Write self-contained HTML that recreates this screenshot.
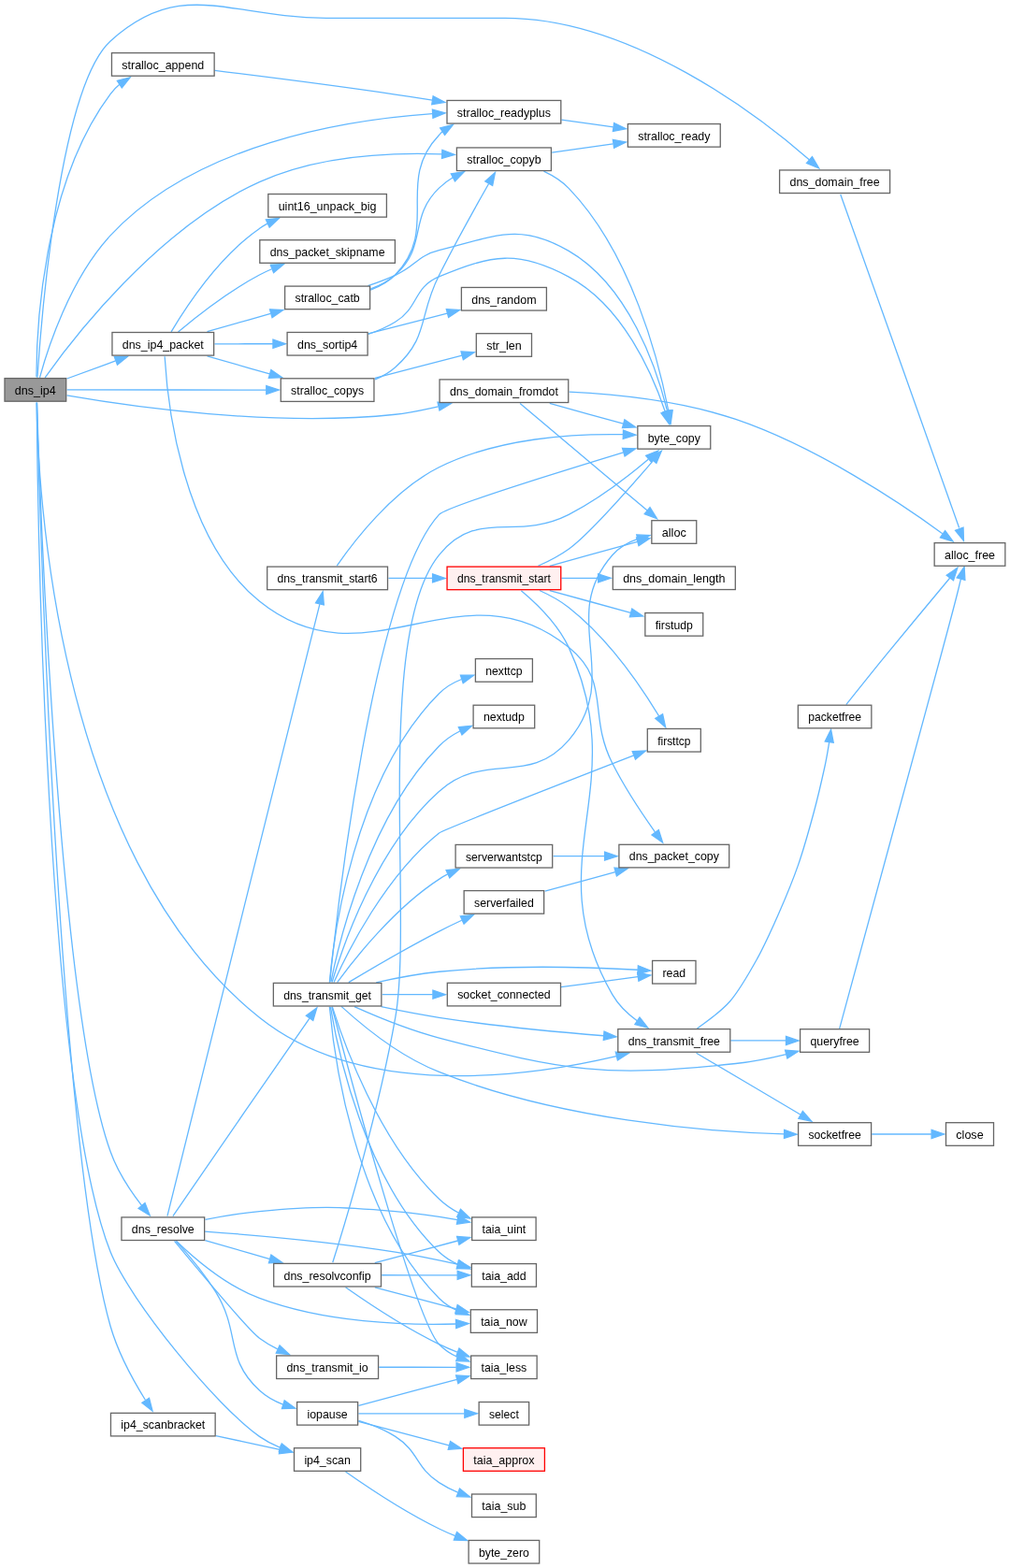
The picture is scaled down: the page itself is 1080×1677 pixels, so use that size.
<!DOCTYPE html>
<html><head><meta charset="utf-8"><title>dns_ip4</title>
<style>
html,body{margin:0;padding:0;background:#fff}
svg{display:block}
text{font-family:"Liberation Sans",sans-serif;font-size:12.4px;fill:#000;text-anchor:middle}
.e{fill:none;stroke:#63b8ff;stroke-width:1.3}
.a{fill:#63b8ff;stroke:#63b8ff;stroke-width:1.3}
.n{fill:#fff;stroke:#666;stroke-width:1.3}
.r{fill:#999;stroke:#666;stroke-width:1.3}
.t{fill:#fff0f0;stroke:#f00;stroke-width:1.3}
</style></head>
<body>
<div style="will-change:transform;width:1080px;height:1677px;overflow:hidden">
<svg width="1080" height="1677" viewBox="0 0 1080 1677">
<rect width="1080" height="1677" fill="#fff"/>
<g>
<path class="e" d="M39.96,403.72C43.93,343.92 63.45,93.88 118.04,44 194.57,-25.21 245.58,19.31 348.8,19.31 348.8,19.31 348.8,19.31 540.19,19.32 675.25,19.33 811.04,123.54 865.54,170.98"/><polygon class="a" points="868.46,167.61 875.7,179.87 862.5,174.49"/>
<path class="e" d="M71.49,422.94C137.52,434.44 292.87,457.13 422.77,443.27 439.88,441.45 451.64,438.45 468.51,434.78"/><polygon class="a" points="467.99,430.17 482.16,431.68 469.97,439.07"/>
<path class="e" d="M71.54,405.01C87.61,399.12 105.83,392.44 123.6,385.92"/><polygon class="a" points="122.34,381.54 136.57,381.16 125.47,390.09"/>
<path class="e" d="M48.15,403.85C76.41,364.16 167.99,243.88 277.44,194.64 340.05,166.45 417.84,162.92 472.37,164.87"/><polygon class="a" points="472.87,160.38 486.17,165.5 472.49,169.47"/>
<path class="e" d="M42.48,403.8C50.71,373.72 74.53,298.96 118.04,251.91 208.73,154.2 368.29,128.25 462.29,121.7"/><polygon class="a" points="462.39,117.13 476.14,120.83 462.95,126.22"/>
<path class="e" d="M71.65,416.92C122.29,416.95 219.5,417.02 284.47,417.06"/><polygon class="a" points="284.78,412.52 298.28,417.07 284.78,421.62"/>
<path class="e" d="M39.54,430.73C42.47,525.96 61.84,1074.82 118.04,1231.56 125.76,1253.38 139.36,1273.71 151.58,1289.32"/><polygon class="a" points="155.05,1286.69 160.25,1299.96 148.08,1292.54"/>
<path class="e" d="M39.18,430.55C40.17,510.4 56.1,912.21 277.44,1088.17 388.34,1177.03 566.71,1151.35 659.02,1129.62"/><polygon class="a" points="658.29,1125.08 672.48,1126.35 660.41,1133.93"/>
<path class="e" d="M39.23,430.56C40.1,532.41 48.24,1161.75 118.04,1338.85 139.07,1391.27 231.28,1503.96 277.44,1536.36 284.49,1541.3 291.1,1544.78 299.29,1548.04"/><polygon class="a" points="301.3,1543.92 312.51,1552.7 298.28,1552.51"/>
<path class="e" d="M39.48,430.93C42.18,538.39 61.63,1219.74 118.04,1418.23 126.45,1447.38 142.53,1476.54 155.4,1497.22"/><polygon class="a" points="159.52,1495.33 163.03,1509.14 151.88,1500.27"/>
<path class="e" d="M38.94,403.37C38.92,356.74 44.61,198.67 118.04,100.6 121.17,96.41 123.66,93.57 127.84,90.28"/><polygon class="a" points="125.34,86.33 139.12,82.74 130.33,93.94"/>
<path class="e" d="M898.78,208.01C919.28,265.39 998.04,486.07 1025.63,564.57"/><polygon class="a" points="1030.03,564.06 1030.47,578.3 1021.5,567.22"/>
<path class="e" d="M608.63,419.15C658.94,421.59 728.42,428.73 786.68,448.47 872.07,477.42 962.92,537.81 1007.76,570.65"/><polygon class="a" points="1010.64,567.54 1019.07,579.03 1005.41,574.99"/>
<path class="e" d="M556.11,431.61C587,457.65 654.13,514.1 691.91,545.84"/><polygon class="a" points="694.99,542.66 702.52,554.75 689.2,549.69"/>
<path class="e" d="M587.77,431.37C612.51,438.23 641.24,446.18 666.51,453.19"/><polygon class="a" points="667.89,448.88 679.71,456.84 665.49,457.65"/>
<path class="e" d="M176.13,381.2C178.67,426.19 193.36,575 277.44,643.11 393.08,736.55 492.55,599 608.16,692.32 653.68,729.06 628.19,763.72 654.77,816.3 668.33,843.09 686.48,870.26 700.42,889.82"/><polygon class="a" points="704.34,887.58 708.64,901.16 697,892.95"/>
<path class="e" d="M190.53,354.9C209.59,338.98 244.11,311.68 277.44,294.04 282.09,291.59 285.53,289.86 290.54,287.74"/><polygon class="a" points="289.29,283.25 303.52,282.6 292.59,291.74"/>
<path class="e" d="M229.45,367.78C249.82,367.78 271.42,367.77 291.91,367.77"/><polygon class="a" points="291.93,363.21 305.43,367.76 291.93,372.31"/>
<path class="e" d="M221.56,354.69C242.84,348.62 266.81,341.78 289.39,335.35"/><polygon class="a" points="288.54,330.85 302.76,331.53 291.02,339.6"/>
<path class="e" d="M221.56,380.88C242.51,386.85 266.01,393.53 288.32,399.89"/><polygon class="a" points="289.83,395.59 301.57,403.66 287.33,404.34"/>
<path class="e" d="M183.07,354.81C197.89,330.15 233.42,275.16 277.44,244.47 280.57,242.3 282.47,240.97 285.92,239.13"/><polygon class="a" points="284.32,234.85 298.48,233.3 288.14,243.1"/>
<path class="e" d="M393.71,357.5C403.68,354.12 413.95,349.79 422.77,344.32 448.13,328.69 441.75,307.42 469.48,295.95 526.17,272.19 554.09,267.06 608.16,296.11 665.79,326.61 697.65,399.74 711.26,440.2"/><polygon class="a" points="715.62,439.02 715.45,453.26 706.96,441.83"/>
<path class="e" d="M393.65,356.86C419.12,350.29 450.38,342.25 478.23,335.06"/><polygon class="a" points="477.31,330.69 491.53,331.64 479.64,339.49"/>
<path class="e" d="M393.45,305.69C403.22,302.34 413.47,298.49 422.77,294.32 444.6,284.59 446.28,273.5 469.48,267.73 529.05,252.71 555.07,237.57 608.16,268.4 672.65,305.63 702.18,393.83 713.46,439.44"/><polygon class="a" points="717.94,438.71 716.6,452.9 709.07,440.8"/>
<path class="e" d="M396.49,308.87C405.91,305.33 415.25,300.49 422.77,293.89 457.37,263.54 436.36,232.98 469.48,201.15 474.28,196.54 478.47,193.26 484.36,189.81"/><polygon class="a" points="482.28,185.8 496.36,183.61 486.49,193.87"/>
<path class="e" d="M396.22,310.14C405.97,306.53 415.54,301.32 422.77,293.82 470.85,244.14 421.74,194.64 469.48,144.47 471.04,142.83 471.37,142.16 473.13,140.72"/><polygon class="a" points="470.67,136.81 484.48,133.3 475.61,144.46"/>
<path class="e" d="M581.44,183.2C591.11,187.74 600.76,193.7 608.16,201.39 675.64,271.41 704.59,386.67 714.72,439.24"/><polygon class="a" points="719.21,438.84 717.18,452.95 710.25,440.49"/>
<path class="e" d="M590.14,163.18C610.91,160.24 633.65,157.01 655.57,153.9"/><polygon class="a" points="655.36,149.28 669.36,151.95 656.59,158.3"/>
<path class="e" d="M600.4,128.18C618.74,130.74 637.34,133.35 655.8,135.94"/><polygon class="a" points="656.63,131.5 669.39,137.84 655.4,140.51"/>
<path class="e" d="M401.07,405.94C408.93,402.61 416.51,398.29 422.77,392.72 458.89,360.59 447.35,337.72 469.48,294.48 487.24,259.43 508.47,221.32 522.58,196.46"/><polygon class="a" points="518.76,193.9 529.43,184.45 526.65,198.43"/>
<path class="e" d="M400.81,404.34C430.38,396.7 466.02,387.49 494.16,380.23"/><polygon class="a" points="493.04,375.89 507.27,376.84 495.38,384.69"/>
<path class="e" d="M219.31,1326.69C240.78,1332.83 265.44,1339.88 288.62,1346.5"/><polygon class="a" points="289.88,1342.15 301.62,1350.22 287.4,1350.9"/>
<path class="e" d="M219.09,1317.08C268.61,1320.71 351.83,1327.86 422.77,1339.07 445.24,1342.61 468.37,1347.43 489.08,1352.13"/><polygon class="a" points="490.41,1347.79 502.55,1355.25 488.37,1356.66"/>
<path class="e" d="M188.68,1327.45C206.83,1344.89 241.47,1374.84 277.44,1388.42 347.52,1414.88 433.83,1417.5 487.42,1416"/><polygon class="a" points="487.45,1411.45 501.1,1415.51 487.77,1420.53"/>
<path class="e" d="M219.49,1304.37C237.37,1300.84 258.31,1297.3 277.44,1295.56 341.77,1289.71 358.38,1290.36 422.77,1295.56 445.21,1297.37 468.33,1300.85 489.05,1304.54"/><polygon class="a" points="490.03,1300.15 502.52,1307.02 488.43,1309.11"/>
<path class="e" d="M184.91,1300.59C212.76,1259.93 294.74,1141 330.81,1089.29"/><polygon class="a" points="327.32,1086.34 338.82,1077.91 334.77,1091.57"/>
<path class="e" d="M186.53,1327.46C210.54,1356.47 266.6,1423.23 277.44,1431.17 283.8,1435.82 289.51,1439.29 296.78,1442.92"/><polygon class="a" points="299.09,1438.96 309.45,1448.75 295.28,1447.23"/>
<path class="e" d="M178.91,1300.68C199.81,1215.2 313.27,760.32 341.89,646.06"/><polygon class="a" points="337.5,644.81 345.2,632.82 346.33,647.02"/>
<path class="e" d="M188.14,1327.42C200.14,1340.54 218.2,1361.6 230.74,1381.95 257.53,1425.43 239.79,1452.38 277.44,1487.04 284.97,1493.97 292.99,1498.49 302.63,1502.1"/><polygon class="a" points="304.18,1497.84 315.68,1506.24 301.44,1506.52"/>
<path class="e" d="M355.74,1350.26C368.31,1310.8 404.87,1189.98 422.77,1088.23 442.02,979.76 400.01,679.11 469.48,593.63 510.24,542.86 550.49,579.59 608.16,550.34 640.14,533.99 671.61,509.54 693.23,491.22"/><polygon class="a" points="690.57,487.27 703.84,482.06 696.44,494.23"/>
<path class="e" d="M408.27,1363.76C434.63,1363.79 463.96,1363.82 488.98,1363.85"/><polygon class="a" points="489.19,1359.31 502.69,1363.86 489.19,1368.41"/>
<path class="e" d="M369.51,1376.75C392.1,1392.62 432.29,1419.53 469.48,1437.64 476.12,1440.87 481.8,1443.36 488.92,1446.15"/><polygon class="a" points="490.95,1442.05 502.03,1451.01 487.78,1450.58"/>
<path class="e" d="M400.81,1376.79C428.22,1384.06 460.61,1392.64 487.82,1399.86"/><polygon class="a" points="489.18,1395.52 501.08,1403.37 486.85,1404.32"/>
<path class="e" d="M400.81,1350.57C428.77,1343.13 461.99,1334.3 489.47,1327"/><polygon class="a" points="488.59,1322.5 502.8,1323.46 490.92,1331.31"/>
<path class="e" d="M355.08,1050.46C366.13,1013.11 402.33,906.1 469.48,846.43 519.19,802.27 564.82,841.97 608.16,791.55 667.07,722.88 595.5,661.6 654.77,593.7 662.22,585.19 671.36,580.03 681.91,576.37"/><polygon class="a" points="680.74,571.95 694.96,572.64 683.22,580.71"/>
<path class="e" d="M352.71,1050.4C360.1,977.6 398.88,627.75 469.48,550.38 476.42,542.64 595.5,505.51 666.59,483.83"/><polygon class="a" points="665.49,479.3 679.73,479.84 668.08,488.03"/>
<path class="e" d="M353.42,1077.12C360.68,1120.8 389.35,1262.36 469.48,1339.07 475.68,1344.92 481.85,1348.87 489.79,1352.32"/><polygon class="a" points="491.65,1348.18 502.78,1357.07 488.53,1356.73"/>
<path class="e" d="M354.9,1077.02C371.58,1140.41 443.12,1410.35 469.48,1437.69 475.32,1443.74 481.26,1447.76 489.06,1451.22"/><polygon class="a" points="490.83,1447 501.94,1455.93 487.69,1455.54"/>
<path class="e" d="M352.37,1076.76C356.64,1124.86 377.8,1296.59 469.48,1388.43 475.19,1394.11 480.82,1397.92 488.28,1401.29"/><polygon class="a" points="490.42,1397.22 501.45,1406.25 487.21,1405.74"/>
<path class="e" d="M355.28,1076.67C366.81,1113.21 404.21,1219.98 469.48,1282.25 476.01,1288.48 482.47,1292.99 490.55,1297.24"/><polygon class="a" points="492.48,1293.26 502.85,1303.03 488.68,1301.53"/>
<path class="e" d="M407.64,1076.71C427.14,1080.88 449.2,1085.22 469.48,1088.31 529.14,1097.43 595.62,1103.75 645.66,1107.75"/><polygon class="a" points="646.02,1103.2 659.11,1108.79 645.3,1112.28"/>
<path class="e" d="M378.93,1076.66C402.48,1087.22 437.53,1101.69 469.48,1110.06 606.33,1145.83 646.28,1152.74 786.68,1137.5 804.99,1135.49 823.21,1131.78 840.57,1127.51"/><polygon class="a" points="839.6,1123.15 853.8,1124.2 841.87,1131.97"/>
<path class="e" d="M364.98,1076.39C385.68,1095.25 427.22,1129.92 469.48,1146.36 595.92,1197.25 756.83,1210.7 838.26,1212.85"/><polygon class="a" points="838.63,1208.34 852.05,1213.13 838.47,1217.44"/>
<path class="e" d="M357.08,1050.48C371.37,1018.61 411.85,936.97 469.48,890.93 473.83,887.44 608.25,834.98 677.8,807.93"/><polygon class="a" points="676.2,803.64 690.44,803.03 679.47,812.13"/>
<path class="e" d="M352.37,1050.63C356.64,1002.58 377.8,833.68 469.48,741.8 476.52,734.72 484.2,730.13 493.55,726.49"/><polygon class="a" points="492.42,722.04 506.66,722.21 495.21,730.69"/>
<path class="e" d="M353.89,1050.24C362.39,1007.73 394.04,874.72 469.48,797.97 476.28,791.05 483.39,786.15 492.16,781.75"/><polygon class="a" points="490.33,777.53 504.53,776.25 494,785.85"/>
<path class="e" d="M402.19,1050.81C422.91,1046.16 447.19,1041.51 469.48,1039.26 545.44,1031.54 633.26,1034.55 681.92,1037.26"/><polygon class="a" points="682.37,1032.76 695.58,1038.07 681.85,1041.85"/>
<path class="e" d="M372.83,1050.67C396.26,1036.59 435.03,1013.82 469.48,996.11 477.72,991.87 485.19,988.24 493.78,984.25"/><polygon class="a" points="492.3,979.91 506.47,978.45 496.08,988.19"/>
<path class="e" d="M360.62,1050.65C378.78,1025.81 421.55,971.51 469.48,940.34 472.85,938.15 474.98,936.78 478.69,934.92"/><polygon class="a" points="477.05,930.68 491.22,929.26 480.8,938.97"/>
<path class="e" d="M408.79,1063.67C426.32,1063.66 444.26,1063.65 462.71,1063.64"/><polygon class="a" points="462.91,1059.08 476.41,1063.63 462.91,1068.18"/>
<path class="e" d="M745,1100.5C750.92,1095.58 769.7,1083.57 780.5,1071 791.3,1058.43 801.1,1040.75 809.8,1025.1 818.5,1009.45 825.4,993.8 832.7,977.1 840,960.4 847.33,943 853.6,924.9 859.87,906.8 865.6,885.9 870.3,868.5 875,851.1 879.06,832.99 881.8,820.5 884.54,808.01 885.9,798.06 886.71,793.58"/><polygon class="a" points="891.22,794.2 888.57,780.2 882.21,792.95"/>
<path class="e" d="M781.28,1112.94C801.07,1112.95 821.3,1112.96 840.26,1112.97"/><polygon class="a" points="840.49,1108.43 853.99,1112.98 840.49,1117.53"/>
<path class="e" d="M744.57,1126.19C773.39,1143.25 822.28,1172.18 855.82,1192.03"/><polygon class="a" points="858.4,1188.39 867.79,1199.11 853.84,1196.27"/>
<path class="e" d="M904.8,753.6C912,744.63 929.49,722.39 948,699.8 966.51,677.21 1004.54,631.66 1015.84,618.03"/><polygon class="a" points="1019.49,620.75 1023.9,607.2 1012.19,615.32"/>
<path class="e" d="M897.6,1100.3C915.73,1033.58 984.75,780.2 1006.4,700 1028.05,619.8 1023.99,632.6 1027.51,619.12"/><polygon class="a" points="1031.89,620.34 1031.13,606.12 1023.12,617.9"/>
<path class="e" d="M932.27,1213C952.54,1213 975.71,1213 995.94,1213"/><polygon class="a" points="996.11,1208.45 1009.61,1213 996.11,1217.55"/>
<path class="e" d="M582.69,953.21C605.61,946.92 632.76,939.45 657.93,932.53"/><polygon class="a" points="656.98,928.06 671.2,928.88 659.4,936.84"/>
<path class="e" d="M591.58,915.71C609.07,915.69 627.34,915.68 646.13,915.66"/><polygon class="a" points="646.57,911.1 660.07,915.65 646.57,920.2"/>
<path class="e" d="M599.9,1055.67C627.66,1051.97 658.17,1047.92 682.12,1044.73"/><polygon class="a" points="681.69,1040.25 695.68,1042.92 682.93,1049.27"/>
<path class="e" d="M405.26,1462.26C431.84,1462.27 462.05,1462.28 487.82,1462.29"/><polygon class="a" points="488.07,1457.74 501.57,1462.29 488.07,1466.84"/>
<path class="e" d="M360.23,605.05C377.73,579.88 419.42,524.71 469.48,499.79 532.93,468.21 613.84,463.65 666.37,464.68"/><polygon class="a" points="666.49,460.14 679.86,465.07 666.23,469.24"/>
<path class="e" d="M415.47,618.4C431.1,618.4 446.33,618.4 462.34,618.4"/><polygon class="a" points="462.57,613.85 476.07,618.4 462.57,622.95"/>
<path class="e" d="M587.77,605.3C617.73,597.04 654.25,586.97 681.75,579.39"/><polygon class="a" points="680.58,574.99 694.8,575.8 682.99,583.76"/>
<path class="e" d="M575.46,605.26C586.43,600.39 598.22,594.3 608.16,587.2 628.17,572.91 672,523.37 698.25,492.82"/><polygon class="a" points="695,489.35 707.35,482.21 701.84,495.35"/>
<path class="e" d="M557.35,631.66C573.39,645.11 596.56,667.47 608.16,692.36 677.82,843.48 572.17,920.08 654.77,1063.65 661.43,1075.18 670.62,1084.03 681.26,1091.7"/><polygon class="a" points="683.9,1088 692.67,1099.22 678.89,1095.59"/>
<path class="e" d="M576.94,631.51C587.61,636.3 598.88,642.37 608.16,649.71 650.66,683.19 685.79,734.76 704.6,765.82"/><polygon class="a" points="708.6,763.78 711.63,777.69 700.79,768.45"/>
<path class="e" d="M600.4,618.35C613.51,618.34 625.96,618.33 639.66,618.32"/><polygon class="a" points="639.63,613.75 653.13,618.3 639.63,622.85"/>
<path class="e" d="M587.77,631.52C615.12,639.06 647.66,648.04 674.31,655.39"/><polygon class="a" points="675.77,651.09 687.59,659.05 673.37,659.87"/>
<path class="e" d="M383.41,1503.29C412.79,1495.48 455.14,1484.22 488.59,1475.33"/><polygon class="a" points="487.58,1470.88 501.79,1471.82 489.91,1479.68"/>
<path class="e" d="M383.41,1511.8C415.21,1511.8 462.44,1511.8 496.61,1511.8"/><polygon class="a" points="496.82,1507.25 510.32,1511.8 496.82,1516.35"/>
<path class="e" d="M383.41,1520.28C410.37,1527.39 448.01,1537.34 480.14,1545.82"/><polygon class="a" points="481.56,1541.48 493.46,1549.34 479.23,1550.28"/>
<path class="e" d="M383.45,1519.31C396.31,1523.19 410.87,1528.77 422.77,1536.41 448.13,1552.72 444.23,1569.11 469.48,1585.65 476.08,1589.97 482.05,1593.11 489.55,1596.21"/><polygon class="a" points="491.49,1592.07 502.54,1601.06 488.3,1600.59"/>
<path class="e" d="M369.51,1574.05C392.1,1589.92 432.29,1616.86 469.48,1635.03 475.47,1637.95 480.41,1640.16 486.85,1642.72"/><polygon class="a" points="488.54,1638.52 499.57,1647.55 485.33,1647.03"/>
<path class="e" d="M230.88,1535.54C253.34,1540.39 277.49,1545.6 299.17,1550.28"/><polygon class="a" points="300.33,1545.86 312.55,1553.17 298.4,1554.76"/>
<path class="e" d="M229.66,75.43C279.78,81.59 356.39,91.32 422.77,101.04 436.09,102.99 448.69,104.95 462.37,107.14"/><polygon class="a" points="463.15,102.72 475.78,109.31 461.74,111.71"/>
</g>
<g>
<rect class="r" x="5" y="404.6" width="65.7" height="24.6"/><text x="37.85" y="421.7" textLength="43.96" lengthAdjust="spacingAndGlyphs">dns_ip4</text>
<rect class="n" x="119.45" y="56.6" width="109.7" height="24.6"/><text x="174.3" y="73.7" textLength="87.96" lengthAdjust="spacingAndGlyphs">stralloc_append</text>
<rect class="n" x="119.95" y="355.5" width="108.7" height="24.6"/><text x="174.3" y="372.6" textLength="86.96" lengthAdjust="spacingAndGlyphs">dns_ip4_packet</text>
<rect class="n" x="129.95" y="1301.9" width="88.7" height="24.6"/><text x="174.3" y="1319" textLength="66.96" lengthAdjust="spacingAndGlyphs">dns_resolve</text>
<rect class="n" x="118.45" y="1511.3" width="111.7" height="24.6"/><text x="174.3" y="1528.4" textLength="89.96" lengthAdjust="spacingAndGlyphs">ip4_scanbracket</text>
<rect class="n" x="286.8" y="207.55" width="126.6" height="24.6"/><text x="350.1" y="224.65" textLength="104.86" lengthAdjust="spacingAndGlyphs">uint16_unpack_big</text>
<rect class="n" x="277.8" y="256.7" width="144.6" height="24.6"/><text x="350.1" y="273.8" textLength="122.86" lengthAdjust="spacingAndGlyphs">dns_packet_skipname</text>
<rect class="n" x="304.6" y="306.1" width="91" height="24.6"/><text x="350.1" y="323.2" textLength="69.26" lengthAdjust="spacingAndGlyphs">stralloc_catb</text>
<rect class="n" x="307.1" y="355.45" width="86" height="24.6"/><text x="350.1" y="372.55" textLength="64.26" lengthAdjust="spacingAndGlyphs">dns_sortip4</text>
<rect class="n" x="300.25" y="404.8" width="99.7" height="24.6"/><text x="350.1" y="421.9" textLength="77.96" lengthAdjust="spacingAndGlyphs">stralloc_copys</text>
<rect class="n" x="285.7" y="606.1" width="128.8" height="24.6"/><text x="350.1" y="623.2" textLength="107.06" lengthAdjust="spacingAndGlyphs">dns_transmit_start6</text>
<rect class="n" x="292.35" y="1051.4" width="115.5" height="24.6"/><text x="350.1" y="1068.5" textLength="93.76" lengthAdjust="spacingAndGlyphs">dns_transmit_get</text>
<rect class="n" x="292.7" y="1351.4" width="114.8" height="24.6"/><text x="350.1" y="1368.5" textLength="93.06" lengthAdjust="spacingAndGlyphs">dns_resolvconfip</text>
<rect class="n" x="295.64" y="1449.95" width="108.92" height="24.6"/><text x="350.1" y="1467.05" textLength="87.18" lengthAdjust="spacingAndGlyphs">dns_transmit_io</text>
<rect class="n" x="317.6" y="1499.5" width="65" height="24.6"/><text x="350.1" y="1516.6" textLength="43.26" lengthAdjust="spacingAndGlyphs">iopause</text>
<rect class="n" x="314.51" y="1548.7" width="71.18" height="24.6"/><text x="350.1" y="1565.8" textLength="49.44" lengthAdjust="spacingAndGlyphs">ip4_scan</text>
<rect class="n" x="478" y="107.45" width="121.8" height="24.6"/><text x="538.9" y="124.55" textLength="100.06" lengthAdjust="spacingAndGlyphs">stralloc_readyplus</text>
<rect class="n" x="488.4" y="157.95" width="101" height="24.6"/><text x="538.9" y="175.05" textLength="79.26" lengthAdjust="spacingAndGlyphs">stralloc_copyb</text>
<rect class="n" x="493.4" y="307.45" width="91" height="24.6"/><text x="538.9" y="324.55" textLength="69.26" lengthAdjust="spacingAndGlyphs">dns_random</text>
<rect class="n" x="509.3" y="356.7" width="59.2" height="24.6"/><text x="538.9" y="373.8" textLength="37.46" lengthAdjust="spacingAndGlyphs">str_len</text>
<rect class="n" x="470.05" y="405.9" width="137.7" height="24.6"/><text x="538.9" y="423" textLength="115.96" lengthAdjust="spacingAndGlyphs">dns_domain_fromdot</text>
<rect class="t" x="478.05" y="606.1" width="121.7" height="24.6"/><text x="538.9" y="623.2" textLength="99.96" lengthAdjust="spacingAndGlyphs">dns_transmit_start</text>
<rect class="n" x="508.4" y="704.6" width="61" height="24.6"/><text x="538.9" y="721.7" textLength="39.26" lengthAdjust="spacingAndGlyphs">nexttcp</text>
<rect class="n" x="506.1" y="754.2" width="65.6" height="24.6"/><text x="538.9" y="771.3" textLength="43.86" lengthAdjust="spacingAndGlyphs">nextudp</text>
<rect class="n" x="487.1" y="903.45" width="103.6" height="24.6"/><text x="538.9" y="920.55" textLength="81.86" lengthAdjust="spacingAndGlyphs">serverwantstcp</text>
<rect class="n" x="496.15" y="952.6" width="85.5" height="24.6"/><text x="538.9" y="969.7" textLength="63.76" lengthAdjust="spacingAndGlyphs">serverfailed</text>
<rect class="n" x="478.3" y="1051.3" width="121.2" height="24.6"/><text x="538.9" y="1068.4" textLength="99.46" lengthAdjust="spacingAndGlyphs">socket_connected</text>
<rect class="n" x="504.68" y="1301.9" width="68.43" height="24.6"/><text x="538.9" y="1319" textLength="46.69" lengthAdjust="spacingAndGlyphs">taia_uint</text>
<rect class="n" x="504.34" y="1351.6" width="69.13" height="24.6"/><text x="538.9" y="1368.7" textLength="47.39" lengthAdjust="spacingAndGlyphs">taia_add</text>
<rect class="n" x="503.31" y="1400.75" width="71.18" height="24.6"/><text x="538.9" y="1417.85" textLength="49.44" lengthAdjust="spacingAndGlyphs">taia_now</text>
<rect class="n" x="503.66" y="1450" width="70.48" height="24.6"/><text x="538.9" y="1467.1" textLength="48.74" lengthAdjust="spacingAndGlyphs">taia_less</text>
<rect class="n" x="512.15" y="1499.5" width="53.5" height="24.6"/><text x="538.9" y="1516.6" textLength="31.76" lengthAdjust="spacingAndGlyphs">select</text>
<rect class="t" x="495.4" y="1548.7" width="87" height="24.6"/><text x="538.9" y="1565.8" textLength="65.26" lengthAdjust="spacingAndGlyphs">taia_approx</text>
<rect class="n" x="504.5" y="1598" width="68.8" height="24.6"/><text x="538.9" y="1615.1" textLength="47.06" lengthAdjust="spacingAndGlyphs">taia_sub</text>
<rect class="n" x="501.1" y="1647.45" width="75.6" height="24.6"/><text x="538.9" y="1664.55" textLength="53.86" lengthAdjust="spacingAndGlyphs">byte_zero</text>
<rect class="n" x="671.35" y="132.55" width="98.9" height="24.6"/><text x="720.8" y="149.65" textLength="77.16" lengthAdjust="spacingAndGlyphs">stralloc_ready</text>
<rect class="n" x="681.85" y="455.55" width="77.9" height="24.6"/><text x="720.8" y="472.65" textLength="56.16" lengthAdjust="spacingAndGlyphs">byte_copy</text>
<rect class="n" x="696.85" y="556.7" width="47.9" height="24.6"/><text x="720.8" y="573.8" textLength="26.16" lengthAdjust="spacingAndGlyphs">alloc</text>
<rect class="n" x="655.3" y="605.95" width="131" height="24.6"/><text x="720.8" y="623.05" textLength="109.26" lengthAdjust="spacingAndGlyphs">dns_domain_length</text>
<rect class="n" x="689.85" y="655.55" width="61.9" height="24.6"/><text x="720.8" y="672.65" textLength="40.16" lengthAdjust="spacingAndGlyphs">firstudp</text>
<rect class="n" x="692.3" y="779.45" width="57" height="24.6"/><text x="720.8" y="796.55" textLength="35.26" lengthAdjust="spacingAndGlyphs">firsttcp</text>
<rect class="n" x="661.9" y="903.3" width="117.8" height="24.6"/><text x="720.8" y="920.4" textLength="96.06" lengthAdjust="spacingAndGlyphs">dns_packet_copy</text>
<rect class="n" x="697.6" y="1027.45" width="46.4" height="24.6"/><text x="720.8" y="1044.55" textLength="24.66" lengthAdjust="spacingAndGlyphs">read</text>
<rect class="n" x="660.8" y="1100.6" width="120" height="24.6"/><text x="720.8" y="1117.7" textLength="98.26" lengthAdjust="spacingAndGlyphs">dns_transmit_free</text>
<rect class="n" x="833.6" y="181.95" width="118" height="24.6"/><text x="892.6" y="199.05" textLength="96.26" lengthAdjust="spacingAndGlyphs">dns_domain_free</text>
<rect class="n" x="853.35" y="754.2" width="78.5" height="24.6"/><text x="892.6" y="771.3" textLength="56.76" lengthAdjust="spacingAndGlyphs">packetfree</text>
<rect class="n" x="855.6" y="1100.7" width="74" height="24.6"/><text x="892.6" y="1117.8" textLength="52.26" lengthAdjust="spacingAndGlyphs">queryfree</text>
<rect class="n" x="853.6" y="1200.7" width="78" height="24.6"/><text x="892.6" y="1217.8" textLength="56.26" lengthAdjust="spacingAndGlyphs">socketfree</text>
<rect class="n" x="999.15" y="580.65" width="75.7" height="24.6"/><text x="1037" y="597.75" textLength="53.96" lengthAdjust="spacingAndGlyphs">alloc_free</text>
<rect class="n" x="1011.5" y="1200.7" width="51" height="24.6"/><text x="1037" y="1217.8" textLength="29.26" lengthAdjust="spacingAndGlyphs">close</text>
</g>
</svg>
</div>
</body></html>
